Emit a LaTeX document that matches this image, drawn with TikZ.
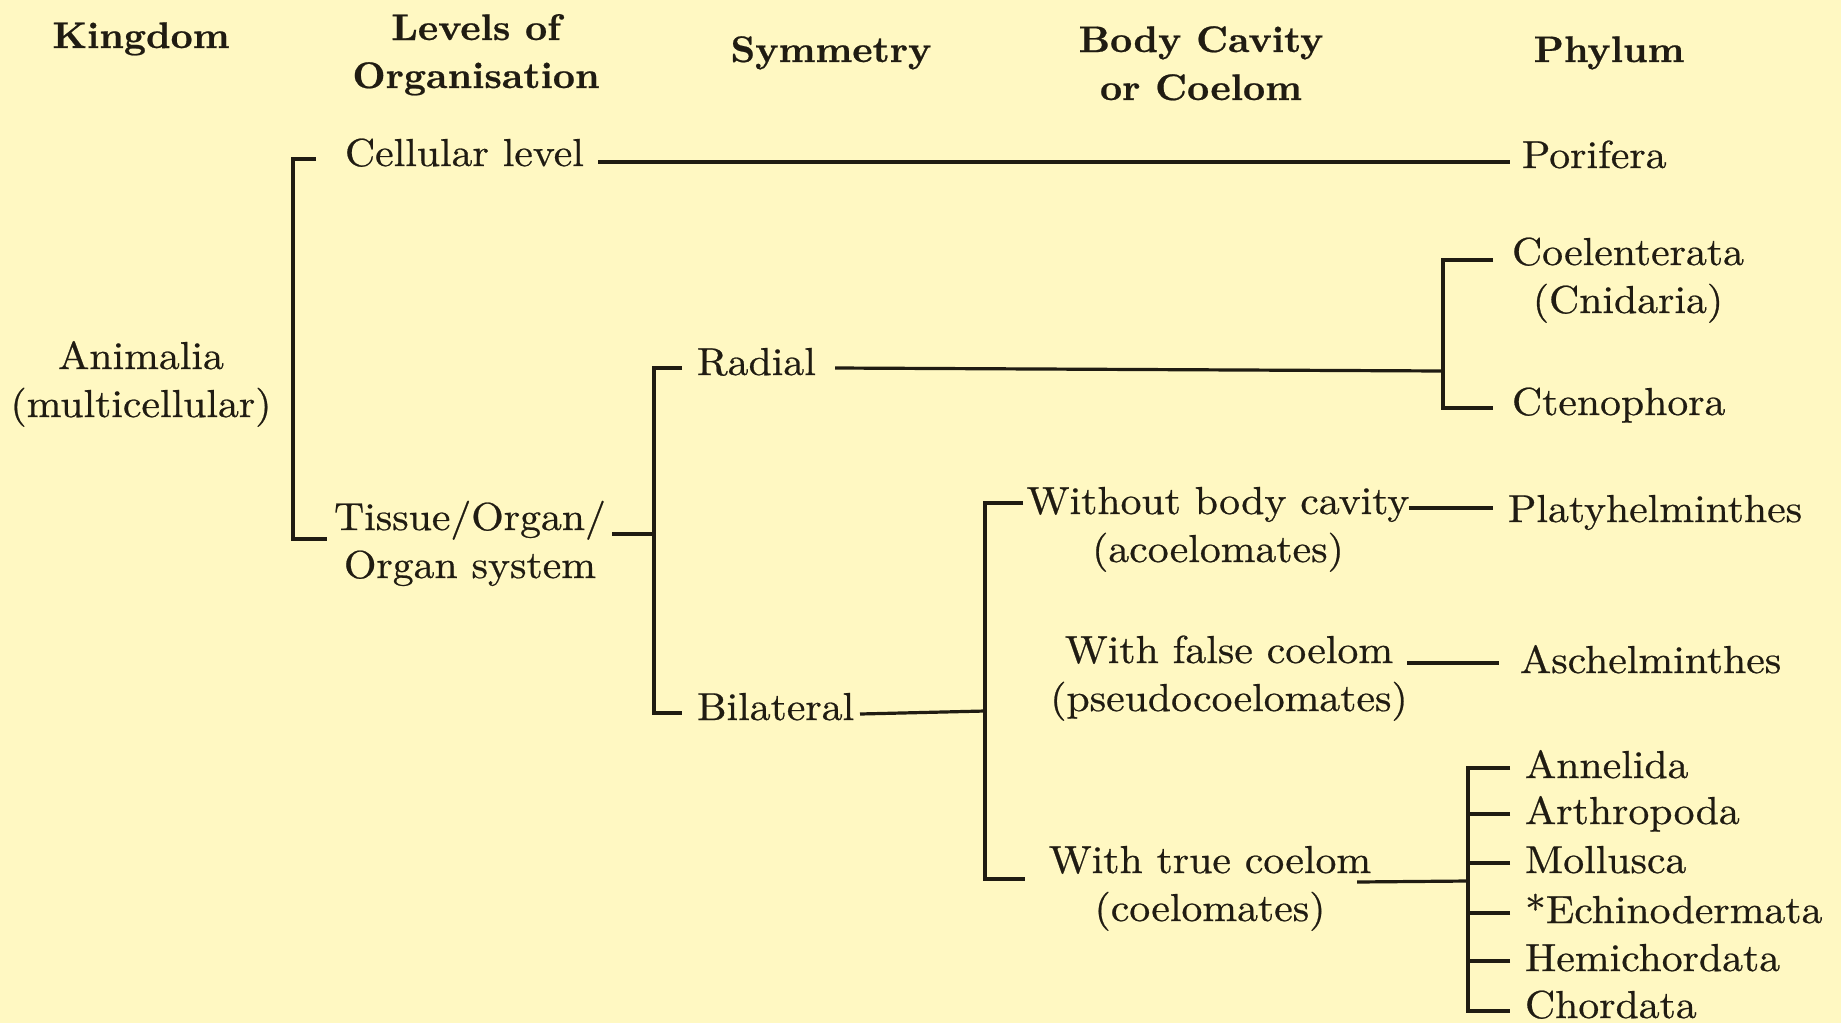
\documentclass[tikz,border=0pt]{standalone}
\usepackage{fontspec}
\setmainfont{lmroman10-regular.otf}[
  BoldFont=lmroman10-bold.otf,
  UprightFeatures={FakeStretch=1.07,FakeBold=0.6},
  BoldFeatures={FakeStretch=1.04,FakeBold=0.6}]
\definecolor{bg}{RGB}{255,248,194}
\definecolor{ink}{RGB}{32,28,18}
\newcommand\twoln[2]{\begin{tabular}[t]{@{}c@{}}#1\\#2\end{tabular}}
\tikzset{
  hd/.style={anchor=base,inner sep=0pt,outer sep=0pt,text=ink,font=\fontsize{37}{48}\selectfont\bfseries},
  tx/.style={anchor=base,inner sep=0pt,outer sep=0pt,text=ink,font=\fontsize{39}{48}\selectfont},
  txl/.style={tx,anchor=base west},
  ln/.style={draw=ink,line width=3.2pt}
}
\begin{document}
\begin{tikzpicture}[x=1pt,y=-1pt]
\fill[bg] (0,0) rectangle (1841,1023);
\useasboundingbox (0,0) rectangle (1841,1023);

% headers
\node[hd] (hK) at (141,48) {Kingdom};
\node[hd] (hL) at (476,40) {\twoln{Levels of}{Organisation}};
\node[hd] (hS) at (831,62) {Symmetry};
\node[hd] (hB) at (1201,52) {\twoln{Body Cavity}{or Coelom}};
\node[hd] (hP) at (1609,62) {Phylum};

% body
\node[tx] (anim) at (141,369) {\twoln{Animalia}{(multicellular)}};
\node[txl] (cell) at (345,166) {Cellular level};
\node[tx] (tiss) at (470,530) {\twoln{Tissue/Organ/}{Organ system}};
\node[txl] (rad) at (697,375) {Radial};
\node[txl] (bil) at (697,720) {Bilateral};
\node[tx] (woc) at (1218,514) {\twoln{Without body cavity}{(acoelomates)}};
\node[tx] (fal) at (1229,663) {\twoln{With false coelom}{(pseudocoelomates)}};
\node[tx] (tru) at (1210,873) {\twoln{With true coelom}{(coelomates)}};
\node[txl] (por) at (1522,168) {Porifera};
\node[tx] (coe) at (1628,265) {\twoln{Coelenterata}{(Cnidaria)}};
\node[txl] (cte) at (1512,415) {Ctenophora};
\node[txl] (pla) at (1508,522) {Platyhelminthes};
\node[txl] (asc) at (1520,673) {Aschelminthes};
\node[txl] (ann) at (1525,778) {Annelida};
\node[txl] (art) at (1525,824) {Arthropoda};
\node[txl] (mol) at (1525,873) {Mollusca};
\node[txl] (ech) at (1525,923) {*Echinodermata};
\node[txl] (hem) at (1525,971) {Hemichordata};
\node[txl] (cho) at (1525,1018) {Chordata};

% connectors
\coordinate (kv) at (293,350);
\draw[ln] ([shift={(-29,-7)}]cell.base west) -| (kv) |- ([shift={(-143,9)}]tiss.base);
\draw[ln] ([shift={(253,-4)}]cell.base west) -- ([shift={(-12,-6)}]por.base west);

\coordinate (sj) at (654,534);
\draw[ln] ([shift={(142,4)}]tiss.base) -- (sj);
\draw[ln] ([shift={(-15,-7)}]rad.base west) -| (sj) |- ([shift={(-15,-7)}]bil.base west);

\coordinate (rj) at (1443,371);
\draw[ln] ([shift={(138,-7)}]rad.base west) -- (rj);
\draw[ln] ([shift={(-135,-5)}]coe.base) -| (rj) |- ([shift={(-19,-7)}]cte.base west);

\coordinate (bj) at (985,711);
\draw[ln] ([shift={(163,-6)}]bil.base west) -- (bj);
\draw[ln] ([shift={(-195,-11)}]woc.base) -| (bj) |- ([shift={(-185,6)}]tru.base);
\draw[ln] ([shift={(191,-6)}]woc.base) -- ([shift={(-15,-14)}]pla.base west);
\draw[ln] ([shift={(178,0)}]fal.base) -- ([shift={(-21,-10)}]asc.base west);

\coordinate (tj) at (1468,881);
\draw[ln] ([shift={(147,9)}]tru.base) -- (tj);
\draw[ln] ([shift={(-15,-10)}]ann.base west) -| (tj) |- ([shift={(-15,-7)}]cho.base west);
\foreach \n in {art,mol,ech,hem} \draw[ln] ([shift={(-15,-10)}]\n.base west) -- ++(-42,0);
\end{tikzpicture}
\end{document}
